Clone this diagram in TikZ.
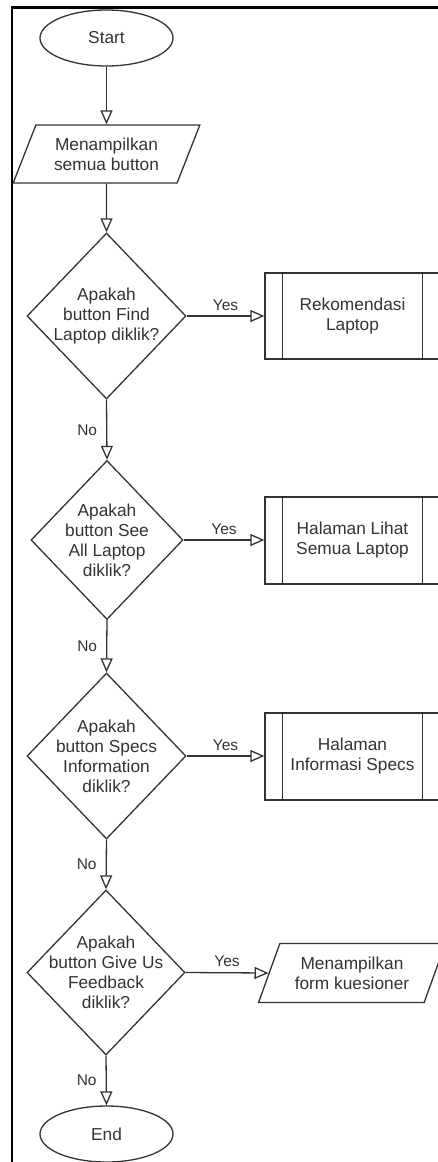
\documentclass[tikz,border=0pt]{standalone}
\usepackage{fontspec}
\setmainfont{Liberation Sans}
\usetikzlibrary{shapes.geometric,arrows.meta}
\definecolor{ink}{HTML}{333333}
\begin{document}
\begin{tikzpicture}[x=1pt,y=-1pt,
  every node/.style={font=\fontsize{17.3}{20}\selectfont, text=ink, align=center},
  shape line/.style={draw=ink, line width=1.3pt},
  terminal/.style={shape line, ellipse, minimum width=133, minimum height=56, inner sep=0},
  io/.style={shape line, trapezium, trapezium left angle=62.7, trapezium right angle=117.3,
    trapezium stretches=true, minimum width=187, minimum height=58, inner sep=0},
  decision/.style={shape line, diamond, inner sep=0},
  procbox/.style={shape line, rectangle, minimum width=175, minimum height=86, inner sep=0},
  flow/.style={draw=ink, line width=1.3pt, -{Triangle[open, length=14pt, width=12pt]}},
  lbl/.style={font=\fontsize{15.5}{18}\selectfont, inner sep=0}
]
\useasboundingbox (0,0) rectangle (438,1162);
\clip (0,0) rectangle (438,1162);

% page frame
\draw[line width=2.6pt, black] (12,1175) -- (12,7.5) -- (450,7.5);

% main column
\node[terminal] (start) at (106.5,38) {Start};
\node[io] (show) at (106.5,154) {Menampilkan\\semua button};
\node[decision, minimum width=159, minimum height=166,
  label={center:{Apakah\\button Find\\Laptop diklik?}}] (q1) at (106.5,316) {};
\node[decision, minimum width=152, minimum height=159,
  label={center:{Apakah\\button See\\All Laptop\\diklik?}}] (q2) at (107,540) {};
\node[decision, minimum width=159, minimum height=166,
  label={center:{Apakah\\button Specs\\Information\\diklik?}}] (q3) at (106.5,756) {};
\node[decision, minimum width=158, minimum height=165,
  label={center:{Apakah\\button Give Us\\Feedback\\diklik?}}] (q4) at (106,972.5) {};
\node[terminal] (end) at (106.5,1134) {End};

% right column
\node[procbox] (r1) at (352.5,316) {Rekomendasi\\Laptop};
\node[procbox, minimum height=87] (r2) at (352.5,540.5) {Halaman Lihat\\Semua Laptop};
\node[procbox, minimum height=87] (r3) at (352.5,756.5) {Halaman\\Informasi Specs};
\node[io, minimum height=59] (form) at (352,973) {Menampilkan\\form kuesioner};

% inner bars of the predefined-process boxes
\foreach \r in {r1,r2,r3} {
  \draw[shape line] ([xshift=18]\r.north west) -- ([xshift=18]\r.south west);
  \draw[shape line] ([xshift=-18]\r.north east) -- ([xshift=-18]\r.south east);
}

% connectors
\draw[flow] (start) -- (show);
\draw[flow] (show) -- (q1);
\draw[flow] (q1.east) -- node[lbl, midway, above=5pt] {Yes} (r1.west);
\draw[flow] (q1.south) -- node[lbl, midway, left=9pt] {No} (q2.north);
\draw[flow] (q2.east) -- node[lbl, midway, above=5pt] {Yes} (r2.west |- q2.east);
\draw[flow] (q2.south) -- node[lbl, midway, left=9pt] {No} (q3.north);
\draw[flow] (q3.east) -- node[lbl, midway, above=5pt] {Yes} (r3.west |- q3.east);
\draw[flow] (q3.south) -- node[lbl, midway, left=9pt] {No} (q4.north);
\draw[flow] (q4.east) -- node[lbl, midway, above=5pt] {Yes} (form.west);
\draw[flow] (q4.south) -- node[lbl, midway, left=9pt] {No} (end.north);
\end{tikzpicture}
\end{document}
